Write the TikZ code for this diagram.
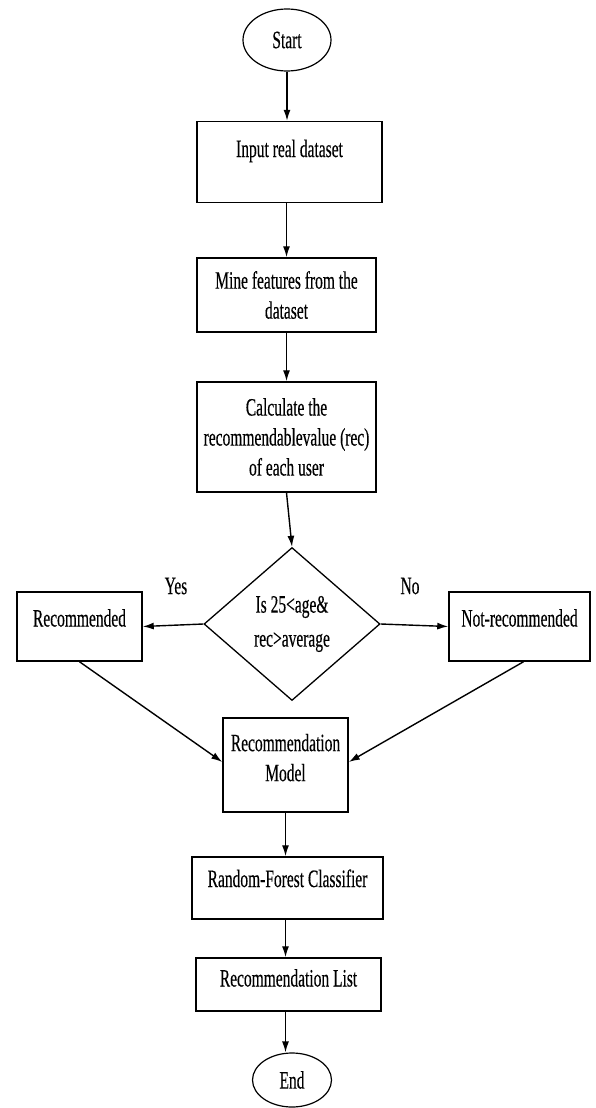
\documentclass[tikz,border=0pt]{standalone}
\usepackage{fontspec}
\setmainfont{Liberation Serif}[FakeStretch=0.62,FakeBold=0.3]
\usetikzlibrary{shapes.geometric,arrows.meta}

\begin{document}
\begin{tikzpicture}[x=1pt,y=-1pt,
    flowtext/.style={align=center,inner sep=0pt,font=\fontsize{25}{30}\selectfont},
    procbox/.style={draw,line width=1.5pt,rectangle,flowtext},
    termnode/.style={draw,line width=1.2pt,ellipse,flowtext},
    decnode/.style={draw,line width=1.3pt,diamond,flowtext,aspect=1.15},
    flowarrow/.style={line width=1.4pt,-{Latex[length=11pt,width=7pt]}}]
    \useasboundingbox (0,0) rectangle (595,1108);

    \node [termnode, minimum width=88pt, minimum height=62pt] (start) at (287,40) {Start};
    \node [procbox, minimum width=185pt, minimum height=81pt, text height=18pt, text depth=28pt] (input) at (289.5,162) {Input real dataset};
    \node [procbox, minimum width=179pt, minimum height=74pt] (mine) at (286.5,295) {Mine features from the\\dataset};
    \node [procbox, minimum width=179pt, minimum height=110pt] (calc) at (286.5,437) {Calculate the\\recommendablevalue (rec)\\of each user};
    \node [decnode, minimum width=176pt, minimum height=153pt] (check) at (292,624) {Is 25<age\&\\[4pt]rec>average};
    \node [procbox, minimum width=125pt, minimum height=69pt, text height=18pt, text depth=18pt] (rec) at (79.5,626.5) {Recommended};
    \node [procbox, minimum width=141pt, minimum height=69pt, text height=18pt, text depth=18pt] (notrec) at (519.5,626.5) {Not-recommended};
    \node [procbox, minimum width=125pt, minimum height=94pt, text depth=15pt] (model) at (285.5,765) {Recommendation\\Model};
    \node [procbox, minimum width=191pt, minimum height=62pt, text height=18pt, text depth=20pt] (forest) at (287.5,888) {Random-Forest Classifier};
    \node [procbox, minimum width=185pt, minimum height=53pt, text height=18pt, text depth=14pt] (list) at (288.5,984.5) {Recommendation List};
    \node [termnode, minimum width=79pt, minimum height=54pt] (end) at (292,1080) {End};

    \node [flowtext] (yes) at (176,586) {Yes};
    \node [flowtext] (no) at (410,586) {No};

    \draw [flowarrow] (start.south) -- (start.south |- input.north);
    \draw [flowarrow] (mine.north |- input.south) -- (mine.north);
    \draw [flowarrow] (mine.south) -- (calc.north);
    \draw [flowarrow] (calc.south) -- (check.north);
    \draw [flowarrow] (check.west) -- (rec.east);
    \draw [flowarrow] (check.east) -- (notrec.west);
    \draw [flowarrow] (rec.south) -- ([yshift=3pt]model.west);
    \draw [flowarrow] ([xshift=4pt]notrec.south) -- ([yshift=3pt]model.east);
    \draw [flowarrow] (model.south) -- (model.south |- forest.north);
    \draw [flowarrow] (model.south |- forest.south) -- (model.south |- list.north);
    \draw [flowarrow] (model.south |- list.south) -- (model.south |- end.north);
\end{tikzpicture}
\end{document}
